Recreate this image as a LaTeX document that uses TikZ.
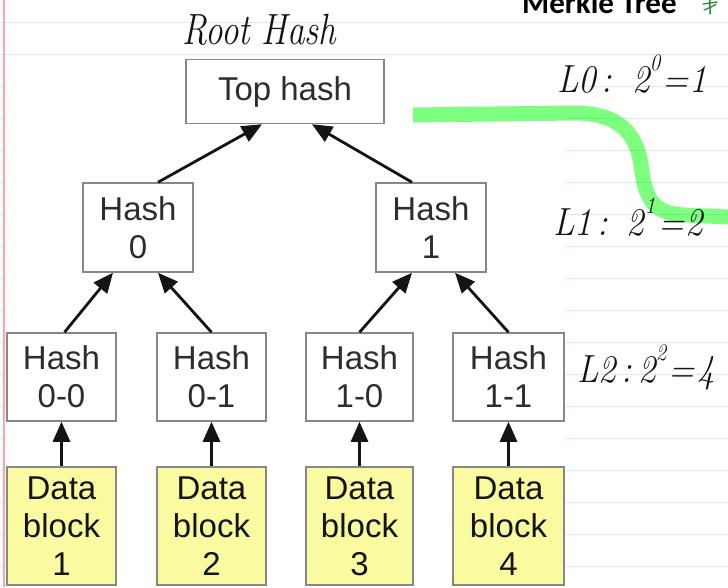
\documentclass[tikz,border=0pt]{standalone}
\usepackage{fontspec}
\setmainfont{Liberation Sans}
\newfontfamily\handfont{Latin Modern Roman}
\newfontfamily\titlefont{Carlito}
\usetikzlibrary{arrows.meta,calc}
\definecolor{boxline}{RGB}{135,135,135}
\definecolor{hashtext}{RGB}{45,45,45}
\definecolor{datatext}{RGB}{20,20,20}
\definecolor{datafill}{RGB}{250,250,160}
\definecolor{noteline}{RGB}{205,235,250}
\definecolor{marginred}{RGB}{255,165,165}
\definecolor{hilite}{RGB}{0,255,0}
\definecolor{pen}{RGB}{20,20,20}
\definecolor{greenpen}{RGB}{40,140,60}
\newcommand{\supdigit}[1]{\raisebox{0.55em}{\fontsize{21}{21}\selectfont #1}}
\begin{document}
\begin{tikzpicture}[x=1pt,y=-1pt,
  hashbox/.style={draw=boxline, line width=1.5pt, fill=white, align=center,
    text=hashtext, font=\fontsize{33}{38}\selectfont, inner sep=0pt},
  databox/.style={hashbox, fill=datafill, text=datatext},
  link/.style={line width=2.8pt, draw=pen, -{Triangle[length=20pt,width=17pt]}},
  hand/.style={font=\handfont\itshape\fontsize{35}{40}\selectfont, text=pen,
    inner sep=0pt, anchor=base west},
]
\useasboundingbox (0,0) rectangle (728,587);
\clip (0,0) rectangle (728,587);
% notebook paper
\fill[white] (0,0) rectangle (728,587);
\foreach \k in {0,...,17}
  \draw[noteline, line width=1pt] (0,{22+32*\k}) -- (728,{22+32*\k});
\fill[white] (5,56) rectangle (566,587);
\draw[marginred, line width=1.8pt] (4,0) -- (4,587);

% tree nodes
\node[hashbox, minimum width=198pt, minimum height=64pt] (top) at (285,91.5) {Top hash};
\node[hashbox, minimum width=110pt, minimum height=89pt] (h0) at (138,227.5) {Hash\\0};
\node[hashbox, minimum width=110pt, minimum height=89pt] (h1) at (431,227.5) {Hash\\1};
\node[hashbox, minimum width=109pt, minimum height=88pt] (h00) at (61.5,377) {Hash\\0-0};
\node[hashbox, minimum width=109pt, minimum height=88pt] (h01) at (211.5,377) {Hash\\0-1};
\node[hashbox, minimum width=107pt, minimum height=88pt] (h10) at (359.5,377) {Hash\\1-0};
\node[hashbox, minimum width=111pt, minimum height=88pt] (h11) at (508.5,377) {Hash\\1-1};
\node[databox, minimum width=109pt, minimum height=118pt] (d1) at (61.5,526) {Data\\block\\1};
\node[databox, minimum width=109pt, minimum height=118pt] (d2) at (211.5,526) {Data\\block\\2};
\node[databox, minimum width=107pt, minimum height=118pt] (d3) at (359.5,526) {Data\\block\\3};
\node[databox, minimum width=111pt, minimum height=118pt] (d4) at (508.5,526) {Data\\block\\4};

% connectors
\draw[link] ($(h0.north)+(20,0)$) -- ($(top.south)+(-23,0)$);
\draw[link] ($(h1.north)+(-19,0)$) -- ($(top.south)+(27,0)$);
\draw[link] ($(h00.north)+(3,0)$) -- ($(h0.south)+(-25,0)$);
\draw[link] (h01.north) -- ($(h0.south)+(20,0)$);
\draw[link] (h10.north) -- ($(h1.south)+(-19,0)$);
\draw[link] (h11.north) -- ($(h1.south)+(24,0)$);
\draw[link] (d1.north) -- (h00.south);
\draw[link] (d2.north) -- (h01.south);
\draw[link] (d3.north) -- (h10.south);
\draw[link] (d4.north) -- (h11.south);

% highlighter stroke
\draw[hilite, opacity=0.5, line width=15pt, line cap=butt]
  (413,115) -- (575,113) .. controls (620,113) and (637,135) .. (641,165)
  .. controls (645,195) and (650,214) .. (685,215) -- (728,217);

% title (cut off at top)
\node[font=\titlefont\bfseries\fontsize{31}{31}\selectfont, anchor=base west,
  inner sep=0pt] (title) at (522,13) {Merkle Tree};
\draw[greenpen, line width=1.5pt, line cap=round] (710,0) .. controls (709,6) and (711,10) .. (710,14);
\draw[greenpen, line width=1.3pt, line cap=round] (703,4) -- (717,2);
\draw[greenpen, line width=1.3pt, line cap=round] (704,10) .. controls (708,8) and (713,7) .. (716,4);

% handwriting
\node[hand] (root) at (182,44) {\scalebox{1}[1.25]{Root\,\,Hash}};
\node[hand] (l0) at (557,92) {\scalebox{1}[1.12]{L0\,:\hspace{20pt}2\supdigit{0}\hspace{2pt}=\hspace{1pt}1}};
\node[hand] (l1) at (553,235) {\scalebox{1}[1.12]{L1\,:\hspace{18pt}2\hspace{1pt}\supdigit{1}\hspace{3pt}=\hspace{1pt}2}};
\node[hand] (l2) at (577,382) {\scalebox{1}[1.12]{L2\,:\hspace{6pt}2\supdigit{2}\hspace{2pt}=\hspace{3pt}4}};
\end{tikzpicture}
\end{document}
